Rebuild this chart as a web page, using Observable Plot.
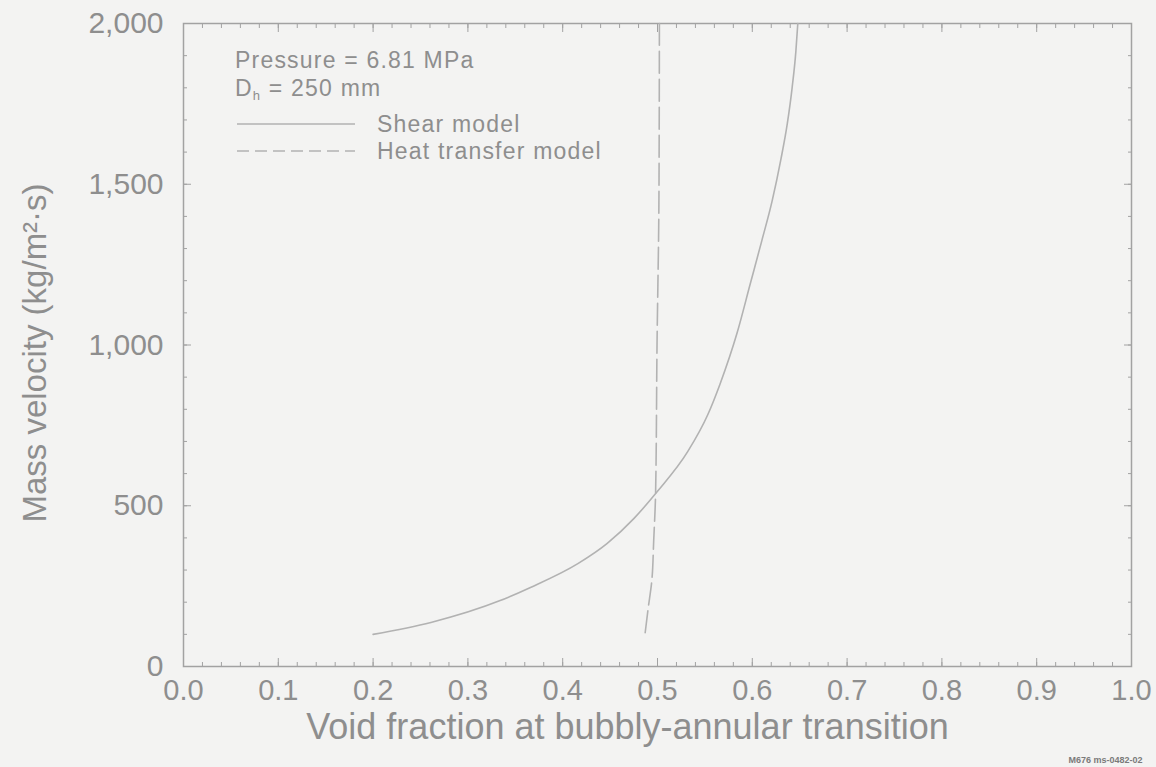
<!DOCTYPE html>
<html>
<head>
<meta charset="utf-8">
<script src="https://cdn.jsdelivr.net/npm/d3@7"></script>
<script src="https://cdn.jsdelivr.net/npm/@observablehq/plot@0.6"></script>
<style>
  html, body { margin: 0; padding: 0; background: #f3f3f2; }
  #chart { width: 1156px; height: 767px; }
</style>
</head>
<body>
<div id="chart"></div>
<script>
// Shear model: mass velocity vs. void fraction at the bubbly-annular transition
const shearVoid = [0.200, 0.261, 0.334, 0.366, 0.416, 0.447, 0.475, 0.500, 0.532, 0.553, 0.566, 0.584, 0.598, 0.610, 0.621, 0.630, 0.637, 0.642, 0.646, 0.648];
const shearMass = [100, 137, 205, 246, 320, 383, 460, 545, 669, 783, 879, 1038, 1192, 1324, 1449, 1575, 1690, 1800, 1915, 2000];

// Heat transfer model
const heatVoid = [0.487, 0.490, 0.494, 0.496, 0.498, 0.4995, 0.5015, 0.502];
const heatMass = [105, 177, 267, 392, 541, 1000, 1450, 2000];

// Axis ticks
const xTicks = [0, 0.1, 0.2, 0.3, 0.4, 0.5, 0.6, 0.7, 0.8, 0.9, 1.0];
const yTicks = [0, 500, 1000, 1500, 2000];
const xMinor = d3.range(0, 51).map(i => i / 50);
const yMinor = d3.range(0, 21).map(i => i * 100);

const xTitle = "Void fraction at bubbly-annular transition";
const yTitle = "Mass velocity (kg/m²·s)";
const figureId = "M676 ms-0482-02";

const shear = shearVoid.map((v, i) => ({void: v, mass: shearMass[i]}));
const heat = heatVoid.map((v, i) => ({void: v, mass: heatMass[i]}));

const textColor = "#8e8e8e";
const axisColor = "#a2a2a2";
const lineColor = "#b2b2b2";
const font = "'Liberation Sans', Arial, Helvetica, sans-serif";

const svg = Plot.plot({
  width: 1156,
  height: 767,
  marginLeft: 183,
  marginRight: 25,
  marginTop: 23,
  marginBottom: 101,
  style: {background: "#f3f3f2", fontFamily: font, color: textColor},
  x: {domain: [0, 1]},
  y: {domain: [0, 2000]},
  marks: [
    Plot.frame({stroke: axisColor, strokeWidth: 1.5}),
    // bottom axis
    Plot.axisX(xMinor, {tickSize: -4, text: null, label: null, stroke: axisColor}),
    Plot.axisX(xTicks, {tickSize: -8, tickPadding: 21, tickFormat: d3.format(".1f"), fontSize: 29, label: null, stroke: axisColor, fill: textColor}),
    // top axis
    Plot.axisX(xMinor, {anchor: "top", tickSize: -4, text: null, label: null, stroke: axisColor}),
    Plot.axisX(xTicks, {anchor: "top", tickSize: -8, text: null, label: null, stroke: axisColor}),
    // left axis
    Plot.axisY(yMinor, {tickSize: -4, text: null, label: null, stroke: axisColor}),
    Plot.axisY(yTicks, {tickSize: -8, tickPadding: 28, tickFormat: d3.format(","), fontSize: 30, label: null, stroke: axisColor, fill: textColor}),
    // right axis
    Plot.axisY(yMinor, {anchor: "right", tickSize: -4, text: null, label: null, stroke: axisColor}),
    Plot.axisY(yTicks, {anchor: "right", tickSize: -8, text: null, label: null, stroke: axisColor}),
    // curves
    Plot.line(shear, {x: "void", y: "mass", curve: "monotone-x", stroke: lineColor, strokeWidth: 1.6}),
    Plot.line(heat, {x: "void", y: "mass", curve: "monotone-y", stroke: lineColor, strokeWidth: 1.6, strokeDasharray: "22,6"}),
    // axis titles
    Plot.text([xTitle], {frameAnchor: "bottom", dx: -30, dy: 61, lineAnchor: "middle", textAnchor: "middle", fontSize: 36, fill: textColor}),
    Plot.text([yTitle], {frameAnchor: "left", dx: -148, dy: 8, rotate: -90, lineAnchor: "middle", textAnchor: "middle", fontSize: 33, fill: textColor}),
    // figure id
    Plot.text([figureId], {frameAnchor: "bottom-right", dx: 11, dy: 96, textAnchor: "end", fontSize: 9, fontWeight: "bold", fill: "#7a7a7a"})
  ]
});

document.getElementById("chart").appendChild(svg);

// Annotation block: conditions and line key
const g = d3.select(svg).append("g")
  .attr("font-family", font)
  .attr("font-size", 23)
  .attr("letter-spacing", 1.2)
  .attr("text-anchor", "start")
  .attr("fill", textColor);

g.append("text").attr("x", 235).attr("y", 68).text("Pressure = 6.81 MPa");
const dh = g.append("text").attr("x", 235).attr("y", 96);
dh.append("tspan").text("D");
dh.append("tspan").attr("font-size", 13).attr("dy", 4).text("h");
dh.append("tspan").attr("dy", -4).text(" = 250 mm");

g.append("line").attr("x1", 237).attr("x2", 355).attr("y1", 124).attr("y2", 124)
  .attr("stroke", lineColor).attr("stroke-width", 1.6);
g.append("text").attr("x", 377).attr("y", 132).text("Shear model");

g.append("line").attr("x1", 237).attr("x2", 355).attr("y1", 151).attr("y2", 151)
  .attr("stroke", lineColor).attr("stroke-width", 1.6).attr("stroke-dasharray", "12,6");
g.append("text").attr("x", 377).attr("y", 159).text("Heat transfer model");
</script>
</body>
</html>
